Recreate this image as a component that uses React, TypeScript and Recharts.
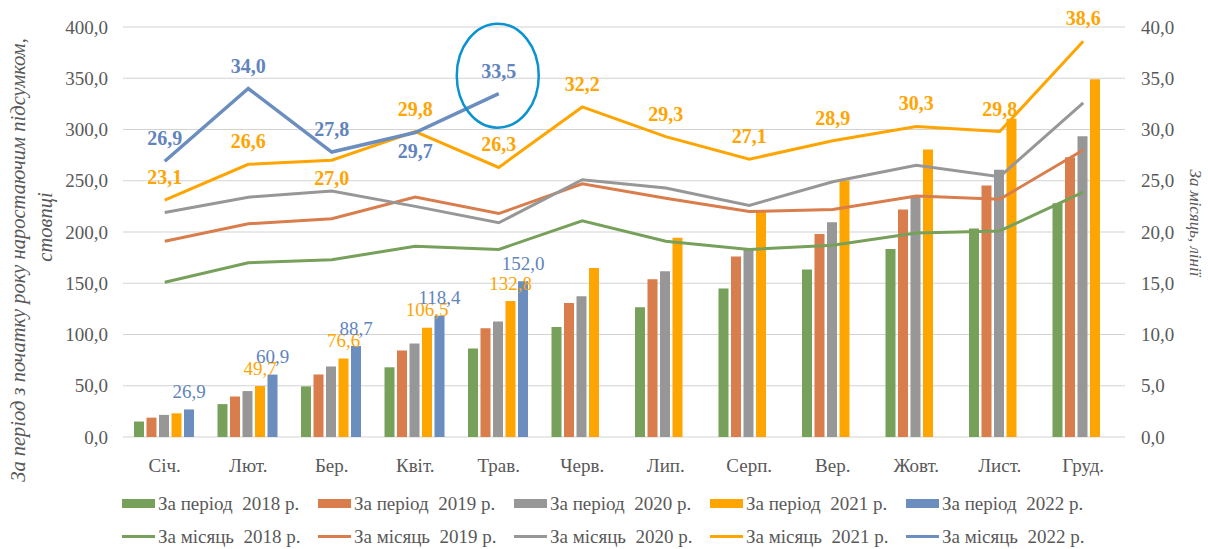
import React from "react";
import {
  ComposedChart, Bar, Line, XAxis, YAxis, CartesianGrid, Legend, LabelList, Label, ReferenceDot,
} from "recharts";

const months = ["Січ.", "Лют.", "Бер.", "Квіт.", "Трав.", "Черв.", "Лип.", "Серп.", "Вер.", "Жовт.", "Лист.", "Груд."];

// за період з початку року (стовпці, ліва вісь)
const period2018 = [15.1, 32.1, 49.4, 68.0, 86.3, 107.4, 126.5, 144.8, 163.5, 183.4, 203.5, 228.0];
const period2019 = [18.9, 39.5, 61.0, 84.4, 106.2, 130.8, 154.0, 176.0, 198.0, 222.0, 245.3, 273.0];
const period2020 = [21.6, 44.8, 68.8, 91.2, 112.6, 137.4, 161.6, 183.5, 209.5, 234.5, 260.8, 293.5];
const period2021 = [23.1, 49.7, 76.6, 106.5, 132.8, 165.0, 194.3, 221.4, 250.3, 280.6, 310.4, 349.0];
const period2022 = [26.9, 60.9, 88.7, 118.4, 152.0];

// за місяць (лінії, права вісь)
const month2018 = [15.1, 17.0, 17.3, 18.6, 18.3, 21.1, 19.1, 18.3, 18.7, 19.9, 20.1, 23.9];
const month2019 = [19.1, 20.8, 21.3, 23.4, 21.8, 24.7, 23.3, 22.0, 22.2, 23.5, 23.2, 28.0];
const month2020 = [21.9, 23.4, 24.0, 22.5, 20.9, 25.1, 24.3, 22.6, 24.9, 26.5, 25.4, 32.6];
const month2021 = [23.1, 26.6, 27.0, 29.8, 26.3, 32.2, 29.3, 27.1, 28.9, 30.3, 29.8, 38.6];
const month2022 = [26.9, 34.0, 27.8, 29.7, 33.5];

const leftTicks = [0, 50, 100, 150, 200, 250, 300, 350, 400];
const rightTicks = [0, 5, 10, 15, 20, 25, 30, 35, 40];

const GREEN = "#77a05b";
const ORANGE = "#d87d4b";
const GRAY = "#979797";
const YELLOW = "#ffa502";
const BLUE = "#6b8ebf";
const LABEL_BLUE = "#6184bd";
const TEXT = "#595959";
const GRID = "#d3d3d3";
const FONT = "Liberation Serif, Tinos, Times New Roman, DejaVu Serif, serif";

const fmt = (v: number) => v.toFixed(1).replace(".", ",");

const data = months.map((m, i) => ({
  month: m,
  p2018: period2018[i], p2019: period2019[i], p2020: period2020[i],
  p2021: period2021[i], p2022: period2022[i] ?? null,
  m2018: month2018[i], m2019: month2019[i], m2020: month2020[i],
  m2021: month2021[i], m2022: month2022[i] ?? null,
}));

const legendRows = [
  [
    { name: "За період  2018 р.", color: GREEN },
    { name: "За період  2019 р.", color: ORANGE },
    { name: "За період  2020 р.", color: GRAY },
    { name: "За період  2021 р.", color: YELLOW },
    { name: "За період  2022 р.", color: BLUE },
  ],
  [
    { name: "За місяць  2018 р.", color: GREEN },
    { name: "За місяць  2019 р.", color: ORANGE },
    { name: "За місяць  2020 р.", color: GRAY },
    { name: "За місяць  2021 р.", color: YELLOW },
    { name: "За місяць  2022 р.", color: BLUE },
  ],
];

const renderLegend = () => (
  <div style={{ width: 1208, height: 72, paddingTop: 10, boxSizing: "border-box", fontFamily: FONT, fontSize: 19, color: TEXT }}>
    {legendRows.map((row, r) => (
      <div key={r} style={{ display: "flex", height: 33, alignItems: "center", paddingLeft: 122 }}>
        {row.map((it) => (
          <div key={it.name} style={{ display: "flex", alignItems: "center", width: 196 }}>
            <span style={{ display: "inline-block", width: 33, height: r === 0 ? 9 : 3, background: it.color, marginRight: 3 }} />
            <span style={{ whiteSpace: "pre" }}>{it.name}</span>
          </div>
        ))}
      </div>
    ))}
  </div>
);

const lineLabel = (color: string, below: number[]) => (props: any) => {
  const { x, y, value, index } = props;
  if (value == null) return null;
  const isBelow = below.includes(index);
  return (
    <text x={x} y={isBelow ? y + 18 : y - 23} dy="0.35em" textAnchor="middle"
      fill={color} fontWeight="bold" fontSize={20} style={{ fontFamily: FONT }}>
      {fmt(value)}
    </text>
  );
};

const barLabel = (color: string, only?: number[]) => (props: any) => {
  const { x, y, width, value, index } = props;
  if (value == null) return null;
  if (only && !only.includes(index)) return null;
  return (
    <text x={x + width / 2} y={y - 18} dy="0.35em" textAnchor="middle"
      fill={color} fontSize={19} style={{ fontFamily: FONT }}>
      {fmt(value)}
    </text>
  );
};

const leftTitle = (props: any) => {
  const { x, y, height } = props.viewBox;
  const cy = y + height / 2;
  return (
    <g fill={TEXT} style={{ fontFamily: FONT }} fontStyle="italic" fontSize={20.5}>
      <text x={x + 18} y={cy + 28} transform={`rotate(-90, ${x + 18}, ${cy + 28})`} textAnchor="middle" dominantBaseline="central">
        За період з початку року наростаючим підсумком,
      </text>
      <text x={x + 45} y={cy - 5} transform={`rotate(-90, ${x + 45}, ${cy - 5})`} textAnchor="middle" dominantBaseline="central">
        стовпці
      </text>
    </g>
  );
};

const rightTitle = (props: any) => {
  const { x, y, height } = props.viewBox;
  const tx = x + 70;
  const ty = y + height / 2 - 9;
  return (
    <text x={tx} y={ty} transform={`rotate(90, ${tx}, ${ty})`} textAnchor="middle" dominantBaseline="central"
      fill={TEXT} style={{ fontFamily: FONT }} fontStyle="italic" fontSize={17}>
      За місяць, лінії
    </text>
  );
};

const highlightShape = (p: any) => (
  <ellipse cx={p.cx - 1} cy={p.cy - 18} rx={41} ry={52} fill="none" stroke="#0b93d0" strokeWidth={2.5} />
);

const tickStyle = { fill: TEXT, fontSize: 19, style: { fontFamily: FONT } };

export default function App() {
  return (
    <div style={{ position: "absolute", left: 0, top: 0, background: "#fff", fontFamily: FONT }}>
      <ComposedChart width={1208} height={549} data={data}
        margin={{ top: 27, right: 0, bottom: 0, left: 0 }}
        barCategoryGap={11} barGap={2.5} style={{ fontFamily: FONT }}>
        <CartesianGrid yAxisId="left" vertical={false} stroke={GRID} />
        <XAxis dataKey="month" height={40} axisLine={false} tickLine={false} tickSize={0} tickMargin={22} tick={tickStyle} interval={0} />
        <YAxis yAxisId="left" width={123} domain={[0, 400]} ticks={leftTicks} tickFormatter={fmt}
          axisLine={false} tickLine={false} tickSize={0} tickMargin={15} tick={tickStyle}>
          <Label content={leftTitle} />
        </YAxis>
        <YAxis yAxisId="right" orientation="right" width={83} domain={[0, 40]} ticks={rightTicks} tickFormatter={fmt}
          axisLine={false} tickLine={false} tickSize={0} tickMargin={16} tick={{ ...tickStyle, textAnchor: "start" }}>
          <Label content={rightTitle} />
        </YAxis>
        <Legend verticalAlign="bottom" content={renderLegend} />

        <Bar yAxisId="left" dataKey="p2018" name="За період  2018 р." fill={GREEN} isAnimationActive={false} />
        <Bar yAxisId="left" dataKey="p2019" name="За період  2019 р." fill={ORANGE} isAnimationActive={false} />
        <Bar yAxisId="left" dataKey="p2020" name="За період  2020 р." fill={GRAY} isAnimationActive={false} />
        <Bar yAxisId="left" dataKey="p2021" name="За період  2021 р." fill={YELLOW} isAnimationActive={false}>
          <LabelList dataKey="p2021" content={barLabel(YELLOW, [1, 2, 3, 4])} />
        </Bar>
        <Bar yAxisId="left" dataKey="p2022" name="За період  2022 р." fill={BLUE} isAnimationActive={false}>
          <LabelList dataKey="p2022" content={barLabel(LABEL_BLUE)} />
        </Bar>

        <Line yAxisId="right" dataKey="m2018" name="За місяць  2018 р." stroke={GREEN} strokeWidth={3} dot={false} isAnimationActive={false} />
        <Line yAxisId="right" dataKey="m2019" name="За місяць  2019 р." stroke={ORANGE} strokeWidth={3} dot={false} isAnimationActive={false} />
        <Line yAxisId="right" dataKey="m2020" name="За місяць  2020 р." stroke={GRAY} strokeWidth={3} dot={false} isAnimationActive={false} />
        <Line yAxisId="right" dataKey="m2021" name="За місяць  2021 р." stroke={YELLOW} strokeWidth={3} dot={false} isAnimationActive={false}>
          <LabelList dataKey="m2021" content={lineLabel(YELLOW, [2])} />
        </Line>
        <Line yAxisId="right" dataKey="m2022" name="За місяць  2022 р." stroke={BLUE} strokeWidth={3.5} dot={false} isAnimationActive={false}>
          <LabelList dataKey="m2022" content={lineLabel(LABEL_BLUE, [3])} />
        </Line>

        <ReferenceDot yAxisId="right" x={months[4]} y={month2022[4]} shape={highlightShape} />
      </ComposedChart>
    </div>
  );
}
